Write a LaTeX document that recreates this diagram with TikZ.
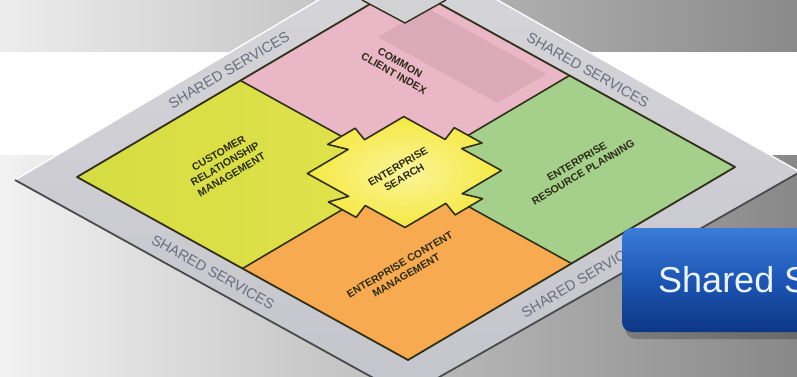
\documentclass[tikz,border=0pt]{standalone}
\usepackage{fontspec}
\setmainfont{Liberation Sans}
\usetikzlibrary{calc}
\definecolor{bgA}{HTML}{EDEDED}
\definecolor{bgB}{HTML}{C4C4C4}
\definecolor{bgC}{HTML}{8A8A8A}
\definecolor{lowA}{HTML}{F2F2F2}
\definecolor{lowB}{HTML}{C6C6C6}
\definecolor{lowC}{HTML}{888888}
\definecolor{frameTop}{HTML}{D6D6DA}
\definecolor{frameBot}{HTML}{C4C4CC}
\definecolor{frameDark}{HTML}{4A4A4A}
\definecolor{crmA}{HTML}{D5DD42}
\definecolor{crmB}{HTML}{E2E24C}
\definecolor{pinkA}{HTML}{E9B7C6}
\definecolor{pinkD}{HTML}{CFA1AF}
\definecolor{greenA}{HTML}{A4D08C}
\definecolor{orangeA}{HTML}{F7AA50}
\definecolor{centerOut}{HTML}{F5E943}
\definecolor{centerIn}{HTML}{FBF49A}
\definecolor{outline}{HTML}{30301A}
\definecolor{svcText}{HTML}{6B6D80}
\definecolor{lblText}{HTML}{2B2B14}
\definecolor{btnTop}{HTML}{3A7DD8}
\definecolor{btnMid}{HTML}{1D56B5}
\definecolor{btnBot}{HTML}{0C3784}
\definecolor{btnText}{HTML}{EEF4FF}
\definecolor{vGray}{HTML}{D2D2D5}
\tikzset{
  quadline/.style={draw=outline, line width=1.6pt, line join=round},
  svc/.style={text=svcText, font=\fontsize{14.5}{15}\selectfont, inner sep=0pt},
  lbl/.style={text=lblText, font=\bfseries\fontsize{10.5}{12.5}\selectfont, align=center, inner sep=0pt},
}
\begin{document}
\begin{tikzpicture}[x=1pt,y=-1pt]
\useasboundingbox (0,0) rectangle (797,376);
\begin{scope}
\clip (0,0) rectangle (797,376);
% background bands
\shade[left color=bgA, middle color=bgB, right color=bgC] (0,0) rectangle (797,52);
\fill[white] (0,52) rectangle (797,155);
\shade[left color=lowA, middle color=lowB, right color=lowC] (0,155) rectangle (797,376);

% outer frame
\coordinate (oL) at (15,180);
\coordinate (oT) at (406,-52);
\coordinate (oR) at (800,172);
\coordinate (oB) at (406,396);
\shade[top color=frameTop, bottom color=frameBot] (oL)--(oT)--(oR)--(oB)--cycle;
\draw[white, line width=1.4pt] (oL)--(oT)--(oR);
\draw[frameDark, line width=1.8pt] (oL)--(oB)--(oR);

% inner square in its own skewed coordinates
\begin{scope}[shift={(77,177)}, x={(327pt,193pt)}, y={(331pt,-183pt)}]
  \def\a{0.35}\def\b{0.645}\def\m{0.5}\def\wa{0.025}\def\wb{0.042}\def\h{0.045}
  \shade[left color=crmA, right color=crmB] (0,0)--(0.5,0)--(0.5,0.5)--(0,0.5)--cycle;
  \fill[pinkA] (0.5,0)--(1,0)--(1,0.5)--(0.5,0.5)--cycle;
  \fill[pinkD, opacity=0.55] (0.82,0.1)--(0.97,0.1)--(0.97,0.46)--(0.82,0.46)--cycle;
  \fill[greenA] (0.5,0.5)--(1,0.5)--(1,1)--(0.5,1)--cycle;
  \fill[orangeA] (0,0.5)--(0.5,0.5)--(0.5,1)--(0,1)--cycle;
  % quadrant boundaries
  \draw[quadline] (0.5,0)--(0.5,\a-\h);
  \draw[quadline] (1,0.5)--(\b+\h,0.5);
  \draw[quadline] (0.5,1)--(0.5,\b+\h);
  \draw[quadline] (0,0.5)--(\a-\h,0.5);
  % center puzzle piece
  \shade[inner color=centerIn, outer color=centerOut, draw=outline, line width=1.6pt, line join=round]
    (\a,\a) -- (\m-\wa,\a) -- (\m-\wb,\a-\h) -- (\m+\wb,\a-\h) -- (\m+\wa,\a) --
    (\b,\a) -- (\b,\m-\wa) -- (\b+\h,\m-\wb) -- (\b+\h,\m+\wb) -- (\b,\m+\wa) --
    (\b,\b) -- (\m+\wa,\b) -- (\m+\wb,\b+\h) -- (\m-\wb,\b+\h) -- (\m-\wa,\b) --
    (\a,\b) -- (\a,\m+\wa) -- (\a-\h,\m+\wb) -- (\a-\h,\m-\wb) -- (\a,\m-\wa) -- cycle;
  \draw[draw=outline, line width=1.8pt, line join=round] (0,0)--(1,0)--(1,1)--(0,1)--cycle;
\end{scope}

% top V notch
\fill[vGray] (362,0)--(405,23)--(446,0)--cycle;
\draw[outline, line width=1.4pt] (362,0)--(405,23)--(446,0);

% frame labels
\node[svc, rotate=30.5] (s1) at (229,70) {SHARED SERVICES};
\node[svc, rotate=-29.5] (s2) at (588,70) {SHARED SERVICES};
\node[svc, rotate=-29] (s3) at (213,272) {SHARED SERVICES};
\node[svc, rotate=30.5] (s4) at (582,279) {SHARED SERVICES};

% quadrant labels
\node[lbl, rotate=-29.5] (cci) at (397,68) {COMMON\\CLIENT INDEX};
\node[lbl, rotate=30.5] (crm) at (225,164) {CUSTOMER\\RELATIONSHIP\\MANAGEMENT};
\node[lbl, rotate=30.5] (es) at (401,172) {ENTERPRISE\\SEARCH};
\node[lbl, rotate=30.5] (erp) at (580,167) {ENTERPRISE\\RESOURCE PLANNING};
\node[lbl, rotate=30.5] (ecm) at (403,270) {ENTERPRISE CONTENT\\MANAGEMENT};

% button
\fill[black, opacity=0.22, rounded corners=11pt] (625,233) rectangle (830,339);
\shade[top color=btnTop, bottom color=btnBot, middle color=btnMid, rounded corners=10pt] (622,228) rectangle (830,332);
\node[anchor=base west, inner sep=0pt, text=btnText, font=\fontsize{36}{40}\selectfont] (btn) at (658,292) {Shared S};
\end{scope}
\end{tikzpicture}
\end{document}
